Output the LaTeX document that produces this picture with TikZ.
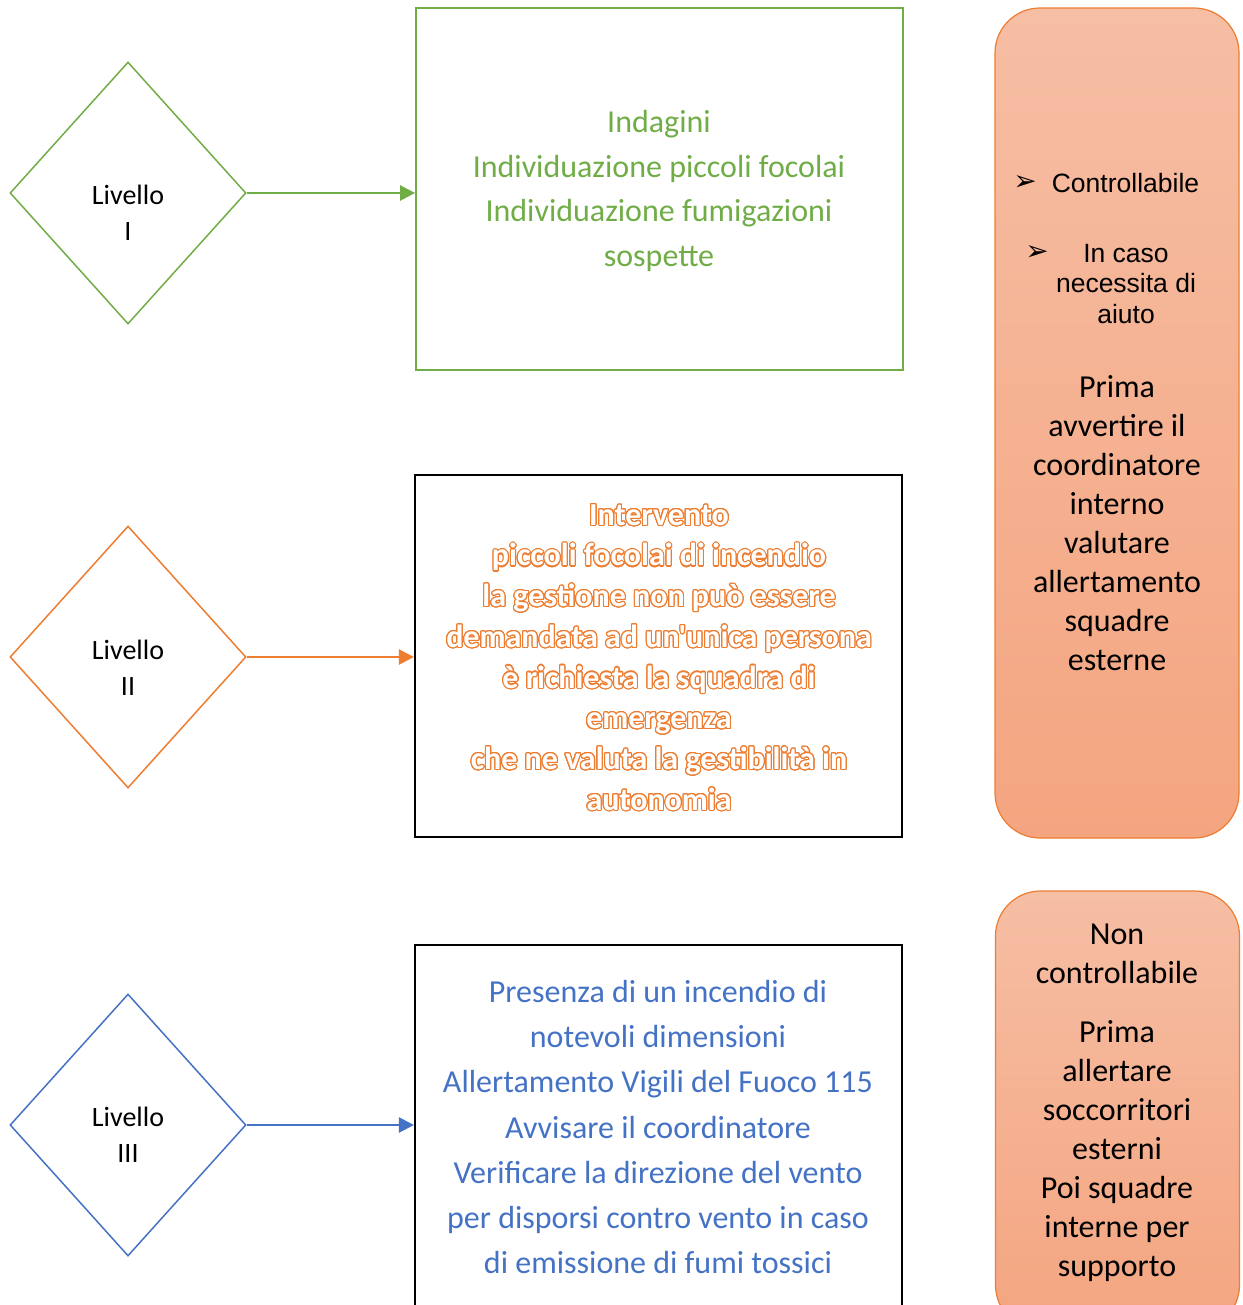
\documentclass[tikz,border=0pt]{standalone}
\usepackage{fontspec}
\setmainfont{Carlito}[Ligatures=TeXOff]
\newfontfamily\arialfont{Liberation Sans}
\newfontfamily\symfont{DejaVu Sans}
\usepackage{contour}
\contourlength{1.1pt}
\contournumber{24}
\usetikzlibrary{shapes.geometric,arrows.meta}

\definecolor{lvgreen}{HTML}{70AD47}
\definecolor{lvorange}{HTML}{ED7D31}
\definecolor{lvblue}{HTML}{4472C4}
\definecolor{salmontop}{RGB}{246,190,164}
\definecolor{salmonbot}{RGB}{244,165,128}

\tikzset{
  level/.style={diamond, draw=#1, line width=1.5pt, minimum width=236pt,
    minimum height=262pt, inner sep=0pt},
  levellabel/.style={align=center, font=\fontsize{28}{36}\selectfont},
  databox/.style={rectangle, draw=#1, minimum width=487pt, inner sep=0pt},
  flow/.style={draw=#1, line width=2.5pt, -{Triangle[length=15pt,width=15pt]}},
  statusbox/.style={rectangle, rounded corners=45pt, draw=lvorange, line width=1.2pt,
    top color=salmontop, bottom color=salmonbot, minimum width=244pt, inner sep=0pt},
  bodytext/.style={align=center, font=\fontsize{32}{#1}\selectfont},
  arialtext/.style={align=center, font=\arialfont\fontsize{26.5}{30.5}\selectfont},
  bulletmark/.style={font=\symfont\fontsize{28}{30}\selectfont},
}

\newcommand{\ringtext}[1]{\contour{lvorange}{#1}}

\begin{document}
\begin{tikzpicture}[x=1pt, y=-1pt]
\useasboundingbox (0,0) rectangle (1242,1305);
\clip (0,0) rectangle (1242,1305);

% decision diamonds for the three levels
\node[level=lvgreen]  (d1) at (128,193)  {};
\node[level=lvorange] (d2) at (128,657)  {};
\node[level=lvblue]   (d3) at (128,1125) {};
\node[levellabel] (l1) at (128,213)  {Livello\\I};
\node[levellabel] (l2) at (128,668)  {Livello\\II};
\node[levellabel] (l3) at (128,1135) {Livello\\III};

% action boxes
\node[databox=lvgreen, line width=1.8pt, minimum height=362pt] (g) at (659.5,189)  {};
\node[databox=black,   line width=2.2pt, minimum height=362pt] (o) at (658.5,656)  {};
\node[databox=black,   line width=2.2pt, minimum height=375pt] (b) at (658.5,1132.5) {};

% connectors
\draw[flow=lvgreen]  (d1.east) -- (d1.east -| g.west);
\draw[flow=lvorange] (d2.east) -- (d2.east -| o.west);
\draw[flow=lvblue]   (d3.east) -- (d3.east -| b.west);

% action texts
\node[bodytext=44.5, text=lvgreen] (gt) at (659,191) {Indagini\\Individuazione piccoli focolai\\Individuazione fumigazioni\\sospette};

\node[align=center, text=white, font=\bfseries\fontsize{32}{40.7}\selectfont] (ot) at (659,658)
  {\ringtext{Intervento}\\\ringtext{piccoli focolai di incendio}\\\ringtext{la gestione non può essere}\\
   \ringtext{demandata ad un'unica persona}\\\ringtext{è richiesta la squadra di}\\\ringtext{emergenza}\\
   \ringtext{che ne valuta la gestibilità in}\\\ringtext{autonomia}};

\node[bodytext=45.2, text=lvblue] (bt) at (658,1127) {Presenza di un incendio di\\notevoli dimensioni\\Allertamento Vigili del Fuoco 115\\Avvisare il coordinatore\\Verificare la direzione del vento\\per disporsi contro vento in caso\\di emissione di fumi tossici};

% status panels
\node[statusbox, minimum height=830pt] (s1) at (1117,423) {};
\node[statusbox, minimum height=439pt] (s2) at (1117.5,1110.5) {};

\node[bulletmark] (k1) at (1025,183) {➢};
\node[arialtext] (c1) at (1125.5,183) {Controllabile};
\node[bulletmark] (k2) at (1037,253) {➢};
\node[arialtext] (c2) at (1126,284) {In caso\\necessita di\\aiuto};
\node[bodytext=39] (p1) at (1117,523) {Prima\\avvertire il\\coordinatore\\interno\\valutare\\allertamento\\squadre\\esterne};

\node[bodytext=39] (p2) at (1117,1103) {Non\\controllabile\\[20pt]Prima\\allertare\\soccorritori\\esterni\\Poi squadre\\interne per\\supporto};
\end{tikzpicture}
\end{document}
